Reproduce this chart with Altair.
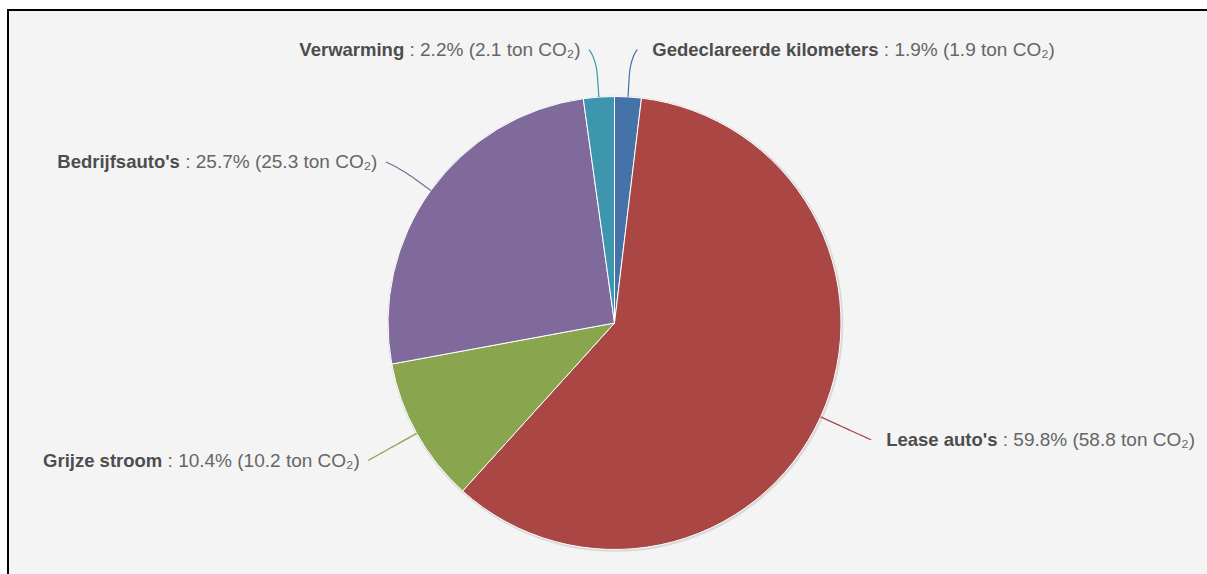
import math
import altair as alt
import pandas as pd

# Emission shares per source (percent) and absolute amounts (ton CO2)
categories = ["Gedeclareerde kilometers", "Lease auto's", "Grijze stroom",
              "Bedrijfsauto's", "Verwarming"]
percentages = [1.9, 59.8, 10.4, 25.7, 2.2]
tons = [1.9, 58.8, 10.2, 25.3, 2.1]
colors = ["#4572A7", "#AA4643", "#89A54E", "#80699B", "#3D96AE"]

W, H = 1207, 574
CX, CY, R = 614.5, 323.0, 226.5
LABEL_R = R + 55.5          # radius on which the labels sit
BREAK_R = R + 20            # where the connector leaves the radial direction
FONT = "Liberation Sans"
FS_BOLD = 18.5
FS_REG = 19

# small layout tweaks for labels that crowd at the top of the pie
label_nudge = {"Gedeclareerde kilometers": (6, 8), "Verwarming": (-6, 8),
               "Bedrijfsauto's": (0, 4)}

# advance widths (1/1000 em) used to butt the bold name against the rest
REG_W = {" ": 278, ":": 278, ".": 278, "%": 889, "(": 333, ")": 333, "t": 278,
         "o": 556, "n": 556, "C": 722, "O": 778, "\u2082": 360}
BOLD_W = {" ": 278, "G": 778, "L": 611, "B": 722, "V": 667, "a": 556, "c": 556,
          "d": 611, "e": 556, "i": 278, "j": 278, "f": 333, "g": 611, "k": 556,
          "l": 278, "m": 889, "o": 611, "r": 389, "s": 556, "t": 333, "u": 611,
          "w": 778, "z": 500, "n": 611, "'": 238}


def text_width(s, table, size):
    return sum(table.get(ch, 556) for ch in s) * size / 1000.0


slices = pd.DataFrame({"cat": categories, "pct": percentages, "idx": range(len(categories))})
color_scale = alt.Scale(domain=categories, range=colors)

# label anchors and connector paths from the slice mid-angles
total = sum(percentages)
cum = 0.0
name_rows, rest_rows, conn_rows = [], [], []
for cat, p, t in zip(categories, percentages, tons):
    mid = (cum + p / 2) / total * 2 * math.pi
    cum += p
    sx, sy = math.sin(mid), -math.cos(mid)
    base = (CX + R * sx, CY + R * sy)
    brk = (CX + BREAK_R * sx, CY + BREAK_R * sy)
    dx, dy = label_nudge.get(cat, (0, 0))
    ax, ay = CX + LABEL_R * sx + dx, CY + LABEL_R * sy + dy
    right_side = sx > 0
    rest = f": {p:.1f}% ({t:.1f} ton CO\u2082)"
    gap = text_width(" ", REG_W, FS_REG)
    if right_side:
        name_end = ax + 15 + text_width(cat, BOLD_W, FS_BOLD)
        rest_start = name_end + gap
    else:
        rest_start = ax - 9 - text_width(rest, REG_W, FS_REG)
        name_end = rest_start - gap
    ty = ay + 6.5
    name_rows.append({"cat": cat, "x": name_end, "y": ty, "label": cat})
    rest_rows.append({"cat": cat, "x": rest_start, "y": ty, "label": rest})

    # soft connector: cubic from the label to the break point, then straight to the edge
    p0 = (ax, ay)
    p1 = (ax, ay)
    p2 = (2 * brk[0] - base[0], 2 * brk[1] - base[1])
    p3 = brk
    pts = []
    n = 16
    for i in range(n + 1):
        u = i / n
        a, b, c, d = (1 - u) ** 3, 3 * (1 - u) ** 2 * u, 3 * (1 - u) * u ** 2, u ** 3
        pts.append((a * p0[0] + b * p1[0] + c * p2[0] + d * p3[0],
                    a * p0[1] + b * p1[1] + c * p2[1] + d * p3[1]))
    pts.append(base)
    for k, (px, py) in enumerate(pts):
        conn_rows.append({"cat": cat, "x": px, "y": py, "k": k})

one = alt.Data(values=[{}])

panel = alt.Chart(one).mark_rect(color="#f4f4f4").encode(
    x=alt.value(8), x2=alt.value(W), y=alt.value(10), y2=alt.value(H))
frame_top = alt.Chart(one).mark_rect(color="#000000").encode(
    x=alt.value(7), x2=alt.value(W), y=alt.value(9), y2=alt.value(11))
frame_left = alt.Chart(one).mark_rect(color="#000000").encode(
    x=alt.value(7), x2=alt.value(9), y=alt.value(9), y2=alt.value(H))

shadow = alt.Chart(one).mark_arc(
    theta=0, theta2=2 * math.pi, outerRadius=R + 1.5, color="#d9d9d9"
).encode(x=alt.value(CX + 0.8), y=alt.value(CY + 0.8))

pie = alt.Chart(slices).mark_arc(
    outerRadius=R, stroke="#ffffff", strokeWidth=1
).encode(
    theta=alt.Theta("pct:Q", stack=True),
    order=alt.Order("idx:Q"),
    color=alt.Color("cat:N", scale=color_scale, legend=None),
    x=alt.value(CX), y=alt.value(CY),
)

connectors = alt.Chart(pd.DataFrame(conn_rows)).mark_line(strokeWidth=1.2).encode(
    x=alt.X("x:Q", scale=None, axis=None),
    y=alt.Y("y:Q", scale=None, axis=None),
    detail="cat:N",
    order="k:Q",
    color=alt.Color("cat:N", scale=color_scale, legend=None),
)

names = alt.Chart(pd.DataFrame(name_rows)).mark_text(
    align="right", baseline="alphabetic", font=FONT, fontSize=FS_BOLD,
    fontWeight="bold", color="#4d4d4d"
).encode(
    x=alt.X("x:Q", scale=None, axis=None),
    y=alt.Y("y:Q", scale=None, axis=None),
    text="label:N",
)

rests = alt.Chart(pd.DataFrame(rest_rows)).mark_text(
    align="left", baseline="alphabetic", font=FONT, fontSize=FS_REG, color="#666666"
).encode(
    x=alt.X("x:Q", scale=None, axis=None),
    y=alt.Y("y:Q", scale=None, axis=None),
    text="label:N",
)

chart = alt.layer(
    panel, frame_top, frame_left, shadow, pie, connectors, names, rests
).properties(
    width=W, height=H, padding=0, autosize=alt.AutoSizeParams(type="none"),
    background="#ffffff",
).configure_view(stroke=None)

chart.save("out.html", embed_options={"renderer": "svg", "actions": False})
